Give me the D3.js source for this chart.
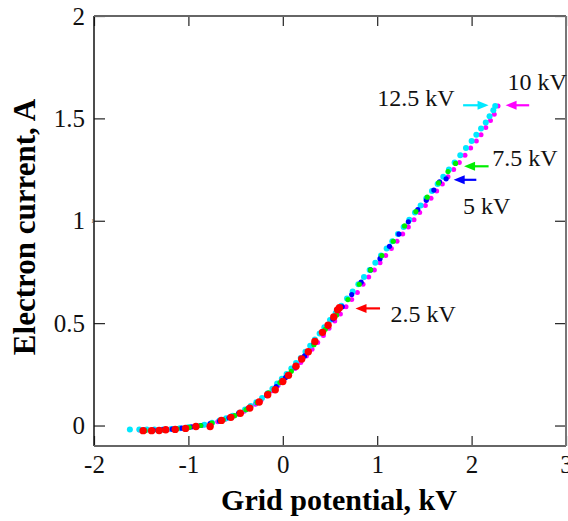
<!DOCTYPE html>
<html>
<head>
<meta charset="utf-8">
<script src="https://cdn.jsdelivr.net/npm/d3@7"></script>
<style>
  body { margin: 0; background: #fff; }
  svg text { font-family: "Liberation Serif", "Times New Roman", serif; }
</style>
</head>
<body>
<div id="chart"></div>
<script>
// Electron current vs grid potential, one series per accelerating voltage
var xTicks = [-2, -1, 0, 1, 2, 3];
var yTicks = [0, 0.5, 1, 1.5, 2];

var kv25 = [[-1.48,-0.025],[-1.39,-0.025],[-1.31,-0.024],[-1.24,-0.021],[-1.14,-0.019],
  [-1.03,-0.014],[-0.92,-0.005],[-0.77,-0.005],[-0.65,0.025],[-0.55,0.04],[-0.45,0.06],
  [-0.35,0.085],[-0.25,0.115],[-0.16,0.15],[-0.08,0.175],[0.0,0.215],[0.06,0.245],[0.14,0.29],
  [0.2,0.325],[0.27,0.36],[0.34,0.41],[0.42,0.455],[0.48,0.49],[0.54,0.53],[0.58,0.565],[0.6,0.575]];
var kv5 = [[-1.47,-0.022],[-1.37,-0.022],[-1.27,-0.02],[-1.17,-0.018],[-1.07,-0.013],[-0.97,-0.007],
  [-0.87,0.0],[-0.77,0.009],[-0.67,0.022],[-0.57,0.038],[-0.47,0.058],[-0.37,0.083],[-0.27,0.112],
  [-0.17,0.148],[-0.07,0.19],[0.03,0.235],[0.13,0.285],[0.23,0.34],[0.33,0.4],[0.43,0.455],[0.53,0.52],
  [0.63,0.58],[0.73,0.64],[0.83,0.7],[0.93,0.76],[1.03,0.815],[1.13,0.875],[1.23,0.935],[1.33,0.995],
  [1.43,1.055],[1.52,1.1],[1.6,1.15],[1.66,1.19],[1.73,1.205]];
var kv75 = [[-1.46,-0.025],[-1.39,-0.025],[-1.32,-0.025],[-1.25,-0.023],[-1.12,-0.016],[-0.99,-0.009],
  [-0.87,0.0],[-0.75,0.012],[-0.63,0.028],[-0.51,0.048],[-0.39,0.077],[-0.27,0.112],[-0.15,0.16],
  [-0.03,0.21],[0.09,0.265],[0.21,0.325],[0.33,0.395],[0.45,0.47],[0.57,0.54],[0.69,0.615],[0.81,0.69],
  [0.93,0.76],[1.05,0.83],[1.17,0.9],[1.29,0.975],[1.41,1.045],[1.53,1.115],[1.65,1.185],[1.75,1.24],
  [1.83,1.28]];
var kv10 = [[-1.52,-0.022],[-1.44,-0.022],[-1.36,-0.021],[-1.28,-0.02],[-1.2,-0.018],[-1.12,-0.015],
  [-1.03,-0.011],[-0.94,-0.005],[-0.85,0.001],[-0.77,0.009],[-0.69,0.019],[-0.61,0.031],[-0.54,0.043],
  [-0.47,0.056],[-0.41,0.07],[-0.35,0.086],[-0.29,0.104],[-0.23,0.124],[-0.17,0.146],[-0.11,0.17],
  [-0.05,0.196],[0.01,0.222],[0.07,0.25],[0.13,0.278],[0.19,0.308],[0.25,0.34],[0.31,0.372],[0.37,0.405],
  [0.43,0.44],[0.49,0.475],[0.55,0.51],[0.61,0.545],[0.67,0.58],[0.73,0.615],[0.79,0.65],[0.85,0.69],
  [0.91,0.725],[0.97,0.76],[1.03,0.795],[1.09,0.83],[1.15,0.865],[1.21,0.9],[1.27,0.935],[1.33,0.97],
  [1.39,1.005],[1.45,1.04],[1.51,1.075],[1.57,1.11],[1.63,1.145],[1.69,1.18],[1.75,1.215],[1.81,1.25],
  [1.87,1.285],[1.93,1.32],[1.99,1.355],[2.05,1.39],[2.1,1.42],[2.15,1.455],[2.2,1.49],[2.24,1.52],
  [2.28,1.56]];
var kv125 = [[-1.62,-0.02],[-1.52,-0.02],[-1.44,-0.02],[-1.36,-0.02],[-1.27,-0.019],[-1.18,-0.017],
  [-1.09,-0.013],[-1.0,-0.008],[-0.91,-0.002],[-0.83,0.004],[-0.75,0.014],[-0.67,0.025],[-0.6,0.036],
  [-0.53,0.048],[-0.46,0.062],[-0.4,0.078],[-0.34,0.095],[-0.28,0.114],[-0.22,0.135],[-0.16,0.158],
  [-0.11,0.18],[-0.06,0.205],[-0.01,0.228],[0.04,0.252],[0.09,0.278],[0.14,0.305],[0.19,0.33],
  [0.24,0.36],[0.29,0.39],[0.34,0.42],[0.39,0.45],[0.44,0.48],[0.5,0.515],[0.56,0.55],[0.62,0.585],
  [0.68,0.62],[0.74,0.655],[0.8,0.69],[0.86,0.725],[0.92,0.76],[0.98,0.795],[1.04,0.83],[1.1,0.865],
  [1.16,0.9],[1.22,0.935],[1.28,0.97],[1.34,1.005],[1.4,1.04],[1.46,1.075],[1.52,1.11],[1.58,1.145],
  [1.64,1.18],[1.7,1.215],[1.76,1.25],[1.82,1.285],[1.88,1.32],[1.94,1.355],[2.0,1.39],[2.05,1.42],
  [2.1,1.45],[2.15,1.48],[2.19,1.51],[2.23,1.54],[2.25,1.56]];

// draw order: later on top
var series = [
  {name: "10 kV", color: "#ff00ff", r: 2.5, data: kv10},
  {name: "12.5 kV", color: "#00e8ff", r: 3, data: kv125},
  {name: "5 kV", color: "#0000ff", r: 2.6, data: kv5},
  {name: "7.5 kV", color: "#00ee00", r: 2.6, data: kv75},
  {name: "2.5 kV", color: "#ff0000", r: 3.7, data: kv25}
];

// arrows: tail -> head, and label position (data units)
var notes = [
  {text: "12.5 kV", color: "#00e8ff", x0: 1.91, x1: 2.18, y: 1.564, tx: 1.0, ty: 1.56},
  {text: "10 kV", color: "#ff00ff", x0: 2.61, x1: 2.36, y: 1.564, tx: 2.38, ty: 1.637},
  {text: "7.5 kV", color: "#00ee00", x0: 2.18, x1: 1.92, y: 1.266, tx: 2.22, ty: 1.266},
  {text: "5 kV", color: "#0000ff", x0: 2.05, x1: 1.81, y: 1.2, tx: 1.91, ty: 1.031},
  {text: "2.5 kV", color: "#ff0000", x0: 1.03, x1: 0.77, y: 0.572, tx: 1.14, ty: 0.508}
];

var width = 568, height = 521;
var margin = {top: 16, right: 2, bottom: 75, left: 94},
    innerWidth = width - margin.left - margin.right,
    innerHeight = height - margin.top - margin.bottom;

var svg = d3.select("#chart").append("svg")
  .attr("width", width)
  .attr("height", height);

var g = svg.append("g")
  .attr("transform", "translate(" + margin.left + "," + margin.top + ")");

var x = d3.scaleLinear().domain([-2, 3]).range([0, innerWidth]);
var y = d3.scaleLinear().domain([-0.1, 2]).range([innerHeight, 0]);

// axes with inward ticks on all four sides
var xAxis = g.append("g")
  .attr("transform", "translate(0," + innerHeight + ")")
  .call(d3.axisBottom(x).tickValues(xTicks).tickSizeInner(-10).tickSizeOuter(0).tickPadding(9)
    .tickFormat(d3.format("d")));
var yAxis = g.append("g")
  .call(d3.axisLeft(y).tickValues(yTicks).tickSizeInner(-11).tickSizeOuter(0).tickPadding(9)
    .tickFormat(function(d) { return d; }));
var topAxis = g.append("g")
  .call(d3.axisTop(x).tickValues(xTicks).tickSizeInner(-10).tickSizeOuter(0).tickFormat(""));
var rightAxis = g.append("g")
  .attr("transform", "translate(" + innerWidth + ",0)")
  .call(d3.axisRight(y).tickValues(yTicks).tickSizeInner(-11).tickSizeOuter(0).tickFormat(""));

[xAxis, yAxis, topAxis, rightAxis].forEach(function(a) {
  a.select(".domain").remove();
  a.selectAll(".tick line").attr("stroke", "#222").attr("stroke-width", 1.2);
  a.selectAll(".tick text").attr("font-size", 25).attr("fill", "#111")
    .style("font-family", "'Liberation Serif', 'Times New Roman', serif");
});
xAxis.selectAll(".tick text").text(function(d) { return d < 0 ? "-" + Math.abs(d) : d; });

// frame
g.append("line").attr("x1", 0).attr("x2", 0).attr("y1", 0).attr("y2", innerHeight)
  .attr("stroke", "#111").attr("stroke-width", 1.5);
g.append("line").attr("x1", 0).attr("x2", innerWidth).attr("y1", innerHeight).attr("y2", innerHeight)
  .attr("stroke", "#666").attr("stroke-width", 2);
g.append("line").attr("x1", 0).attr("x2", innerWidth).attr("y1", 0).attr("y2", 0)
  .attr("stroke", "#666").attr("stroke-width", 2);
g.append("line").attr("x1", innerWidth).attr("x2", innerWidth).attr("y1", 0).attr("y2", innerHeight)
  .attr("stroke", "#777").attr("stroke-width", 2);

// tiny stray mark left of the 1 tick
g.append("text").attr("x", -3).attr("y", y(1) + 2).attr("font-size", 7).attr("fill", "#444").text("1");

// points
series.forEach(function(s) {
  g.append("g").selectAll("circle")
    .data(s.data)
    .enter()
    .append("circle")
    .attr("cx", function(d) { return x(d[0]); })
    .attr("cy", function(d) { return y(d[1]); })
    .attr("r", s.r)
    .attr("fill", s.color);
});

// arrows + labels
notes.forEach(function(n) {
  var xa = x(n.x0), xb = x(n.x1), yy = y(n.y);
  var dir = xb > xa ? 1 : -1, head = 11;
  g.append("line")
    .attr("x1", xa).attr("y1", yy).attr("x2", xb - dir * head + dir * 1).attr("y2", yy)
    .attr("stroke", n.color).attr("stroke-width", 2.2);
  g.append("path")
    .attr("d", "M" + xb + "," + yy + "L" + (xb - dir * head) + "," + (yy - 4.5) +
      "L" + (xb - dir * head) + "," + (yy + 4.5) + "Z")
    .attr("fill", n.color);
  g.append("text")
    .attr("x", x(n.tx)).attr("y", y(n.ty))
    .attr("font-size", 24).attr("fill", "#111")
    .text(n.text);
});

// axis titles
svg.append("text")
  .attr("x", 339).attr("y", 510)
  .attr("text-anchor", "middle")
  .attr("font-size", 30).attr("font-weight", "bold")
  .text("Grid potential, kV");
svg.append("text")
  .attr("transform", "translate(35,227) rotate(-90)")
  .attr("text-anchor", "middle")
  .attr("font-size", 31).attr("font-weight", "bold")
  .text("Electron current, A");
</script>
</body>
</html>
